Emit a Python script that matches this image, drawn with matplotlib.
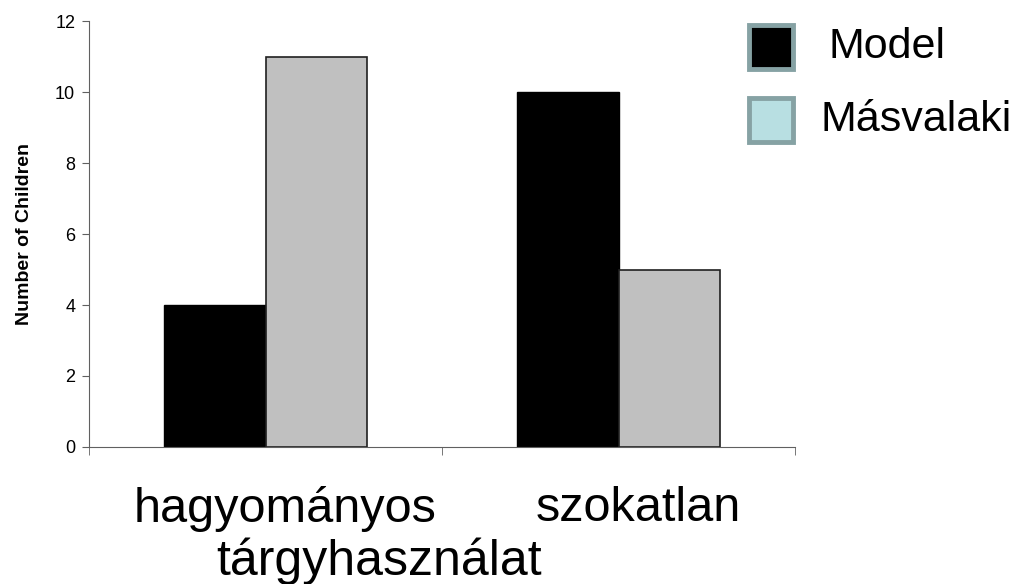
import numpy as np
import matplotlib
matplotlib.use('Agg')
import matplotlib.pyplot as plt
from matplotlib.patches import Rectangle
from matplotlib.transforms import ScaledTranslation

plt.rcParams['font.family'] = ['Liberation Sans', 'DejaVu Sans']

kategoriak = ['hagyományos', 'szokatlan']
model = [4, 10]
masvalaki = [11, 5]
sorozatok = ['Model', 'Másvalaki']

fig = plt.figure(figsize=(10.15, 5.84), dpi=100)
ax = fig.add_axes([0.0877, 0.2346, 0.6956, 0.7294])

x = np.arange(len(kategoriak))
w = 0.287
ax.bar(x - w / 2, model, w, color='black', edgecolor='black', linewidth=1)
ax.bar(x + w / 2, masvalaki, w, color='#c0c0c0', edgecolor='#202020', linewidth=1.2)

ax.set_xlim(-0.5, 1.5)
ax.set_ylim(0, 12)
ax.set_yticks(range(0, 13, 2))
ax.tick_params(axis='y', labelsize=13, length=5, color='#606060', pad=5)
ax.set_xticks(x)
ax.set_xticklabels(kategoriak, fontsize=35)
ax.set_xticks([-0.5, 0.5, 1.5], minor=True)
ax.tick_params(axis='x', which='major', length=0, pad=28)
ax.tick_params(axis='x', which='minor', length=6, color='#606060')
for lbl in ax.get_xticklabels():
    lbl.set_transform(lbl.get_transform() + ScaledTranslation(0.2, 0, fig.dpi_scale_trans))
for s in ['top', 'right']:
    ax.spines[s].set_visible(False)
for s in ['left', 'bottom']:
    ax.spines[s].set_color('#606060')
ax.set_ylabel('Number of Children', fontsize=14, fontweight='bold', labelpad=16)

fig.text(379 / 1015, 1 - 561 / 584, 'tárgyhasználat', fontsize=36, ha='center', va='center')

# jelmagyarázat
szinek = ['black', '#b8dfe2']
szoveg_x = [828, 820]
for i, (nev, szin) in enumerate(zip(sorozatok, szinek)):
    yk = 47 + i * 73
    fig.patches.append(Rectangle(((749) / 1015, 1 - (yk + 22) / 584), 44 / 1015, 44 / 584,
                                 transform=fig.transFigure, facecolor=szin,
                                 edgecolor='#86a2a4', linewidth=3.5))
    fig.text(szoveg_x[i] / 1015, 1 - yk / 584, nev, fontsize=31, ha='left', va='center')

fig.savefig('out.png', dpi=100)
